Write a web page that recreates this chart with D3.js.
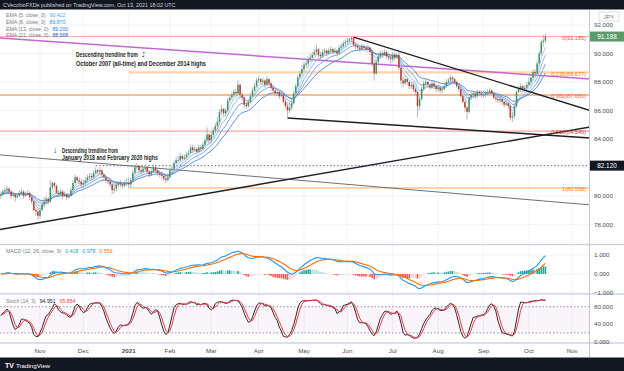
<!DOCTYPE html>
<html>
<head>
<meta charset="utf-8">
<script src="https://cdnjs.cloudflare.com/ajax/libs/d3/7.8.5/d3.min.js"></script>
<style>
body { margin: 0; background: #ffffff; }
svg { display: block; font-family: "Liberation Sans", Arial, sans-serif; }
</style>
</head>
<body>
<div class="canvas"></div>
<script>
// CAD/JPY daily, Oct 6 2020 - Oct 13 2021
const closes = [
  80.1,80.3,80.4,80.5,80.3,80.0,80.1,79.9,80.0,80.2,80.3,80.0,80.1,80.2,79.9,79.6,79.0,78.9,78.6,
  79.0,79.4,79.6,79.8,79.6,80.6,80.9,80.7,80.2,80.1,80.3,80.0,80.1,79.9,80.0,80.4,80.9,81.3,81.1,81.0,80.8,
  80.9,81.1,81.3,81.4,81.3,81.6,81.8,81.7,81.8,81.5,81.3,81.1,81.0,80.8,80.4,80.5,80.8,80.9,80.8,80.7,80.9,80.9,
  80.8,81.1,81.6,82.0,82.1,81.8,81.7,81.9,82.0,81.7,81.5,81.7,82.0,81.8,81.6,81.5,81.4,81.2,81.1,81.3,
  81.8,81.9,82.3,82.5,82.5,82.8,82.6,82.7,82.9,83.0,83.4,83.2,83.3,83.1,83.4,83.3,83.6,83.9,84.3,83.9,
  84.3,84.6,84.9,85.2,85.9,86.1,85.8,86.0,86.7,86.9,87.1,87.3,87.2,87.8,87.1,86.9,86.4,86.3,86.6,87.0,87.4,87.7,88.1,
  88.2,88.0,88.1,87.8,88.2,87.9,87.6,87.4,87.2,87.3,87.0,87.1,86.6,86.3,86.0,86.2,86.5,87.2,87.7,88.3,88.6,88.9,
  89.2,89.3,89.6,89.7,89.9,90.1,90.3,89.9,89.8,90.1,90.2,90.0,90.2,90.3,90.1,90.2,90.0,90.4,90.5,90.7,90.8,
  90.9,91.0,91.1,90.6,90.5,90.4,90.3,90.5,90.4,90.3,90.4,90.1,89.3,88.6,89.4,89.8,90.0,89.9,90.1,89.8,89.7,89.6,
  89.9,89.7,89.9,89.0,88.1,87.9,88.2,88.0,87.7,87.8,87.5,87.3,86.3,86.8,87.5,87.9,88.0,87.8,87.6,87.9,87.7,87.5,
  87.6,87.4,87.5,87.7,88.0,88.1,88.3,88.2,88.0,87.7,87.5,87.0,86.6,86.2,85.9,86.9,87.1,87.2,87.0,87.3,87.2,87.1,
  87.1,87.2,87.3,87.4,87.2,86.9,86.8,86.7,86.8,86.6,86.4,86.5,86.3,85.5,85.6,86.3,87.3,87.5,87.7,87.5,87.6,87.8,
  88.0,88.3,88.7,88.6,89.3,90.0,90.8,90.9,91.188
];
const highs = [
  80.3,80.5,80.6,80.7,80.6,80.4,80.3,80.2,80.2,80.4,80.5,80.4,80.3,80.4,80.3,80.0,79.7,79.2,79.1,
  79.2,79.7,79.9,80.0,79.9,81.1,81.0,81.0,80.8,80.4,80.5,80.4,80.3,80.2,80.2,80.6,81.1,81.5,81.4,81.3,81.2,
  81.1,81.3,81.5,81.6,81.6,81.8,82.0,81.9,82.0,81.9,81.6,81.4,81.3,81.2,80.9,80.8,80.9,81.0,81.1,80.9,81.1,81.2,
  81.3,81.3,81.8,82.2,82.3,82.2,82.0,82.1,82.2,82.1,81.8,81.9,82.2,82.1,81.9,81.8,81.7,81.6,81.4,81.6,
  82.0,82.1,82.5,82.7,82.8,83.0,82.9,82.9,83.1,83.2,83.6,83.6,83.5,83.4,83.6,83.6,83.8,84.1,84.8,84.4,
  84.5,84.8,85.1,85.5,86.1,86.4,86.2,86.2,86.9,87.1,87.3,87.5,87.5,88.1,87.9,87.3,87.0,86.6,86.8,87.2,87.6,87.9,88.3,
  88.4,88.3,88.3,88.2,88.4,88.3,88.0,87.8,87.5,87.5,87.4,87.3,87.2,86.8,86.5,86.6,86.8,87.4,87.9,88.5,88.8,89.2,
  89.4,89.6,89.8,90.0,90.1,90.3,90.6,90.4,90.1,90.3,90.4,90.3,90.4,90.5,90.4,90.4,90.3,90.6,90.7,90.9,91.0,
  91.1,91.1,91.185,91.1,90.8,90.7,90.6,90.7,90.6,90.5,90.6,90.5,90.2,89.5,89.6,90.0,90.2,90.2,90.3,90.2,90.0,89.9,
  90.1,90.1,90.0,90.1,89.2,88.4,88.5,88.3,88.1,88.0,88.0,87.6,87.4,87.0,87.7,88.1,88.3,88.1,87.9,88.1,88.1,87.8,
  87.8,87.7,87.7,87.9,88.2,88.3,88.45,88.4,88.3,88.1,87.8,87.6,87.2,86.8,86.3,87.1,87.3,87.4,87.3,87.5,87.4,87.4,
  87.4,87.4,87.5,87.6,87.5,87.3,87.1,87.0,87.0,86.9,86.7,86.7,86.6,86.4,85.9,86.5,87.4,87.7,87.9,87.8,87.8,88.0,
  88.3,88.5,88.9,88.9,89.5,90.2,91.0,91.3,91.4
];
const lows = [
  79.8,80.0,80.2,80.2,80.1,79.8,79.9,79.6,79.8,79.9,80.0,79.8,79.9,80.0,79.7,79.4,78.9,78.6,78.3,
  78.4,78.9,79.2,79.4,79.4,79.5,80.4,80.5,80.1,79.9,80.0,79.8,79.9,79.7,79.8,79.9,80.3,80.8,80.9,80.8,80.6,
  80.5,80.7,80.9,81.1,81.1,81.1,81.5,81.5,81.5,81.3,81.1,80.9,80.8,80.6,80.1,80.2,80.3,80.6,80.6,80.5,80.6,80.7,
  80.56,80.6,81.0,81.5,81.8,81.6,81.5,81.6,81.8,81.5,81.3,81.4,81.6,81.6,81.4,81.3,81.2,81.0,80.9,81.0,
  81.2,81.6,81.8,82.1,82.3,82.4,82.5,82.5,82.6,82.8,83.0,83.0,83.1,82.9,83.0,83.1,83.2,83.5,83.8,83.6,
  83.7,84.1,84.4,84.6,85.0,85.7,85.6,85.6,85.9,86.5,86.7,86.9,87.0,87.1,86.9,86.7,86.2,86.1,86.2,86.5,86.9,87.3,87.6,
  87.9,87.8,87.8,87.6,87.7,87.7,87.4,87.2,87.0,87.0,86.8,86.9,86.5,86.1,85.5,85.8,86.0,86.4,87.0,87.5,88.1,88.4,
  88.7,89.0,89.1,89.4,89.5,89.8,89.9,89.7,89.6,89.7,89.9,89.8,89.9,90.0,89.9,90.0,89.8,89.9,90.2,90.4,90.5,
  90.6,90.7,90.8,90.5,90.3,90.2,90.1,90.2,90.2,90.1,90.1,89.9,89.1,88.1,88.5,89.3,89.6,89.7,89.8,89.6,89.5,89.3,
  89.4,89.5,89.6,88.8,87.8,87.6,87.8,87.8,87.5,87.5,87.3,87.1,85.5,86.0,86.7,87.4,87.7,87.6,87.4,87.5,87.5,87.3,
  87.3,87.2,87.2,87.4,87.6,87.8,88.0,88.0,87.8,87.6,87.3,86.9,86.5,85.9,85.35,85.8,86.7,86.9,86.8,86.9,87.0,86.9,
  86.9,86.9,87.0,87.1,87.1,86.8,86.6,86.5,86.5,86.4,86.2,86.3,86.1,85.3,85.2,85.4,86.2,87.2,87.3,87.3,87.3,87.4,
  87.7,87.8,88.1,88.3,88.5,89.1,89.8,90.5,90.7
];
const firstOpen = 80.0;

// axis ticks
const priceTicks = [92, 90, 88, 86, 84, 80, 78];
const macdTicks = [1, 0, -1];
const stochTicks = [80, 40, 0];
const lastPrice = 91.188;
const markedLevel = 82.12;

// indicator legends (as printed on the chart)
const emaPeriods = [5, 8, 13, 21];
const emaLegendValues = ['90.412', '89.870', '89.200', '88.568'];
const macdLegendValues = ['0.418', '0.978', '0.559'];
const stochLegendValues = ['94.951', '95.854'];

// fibonacci / horizontal levels
const levelValues = [91.185, 88.677, 87.081, 84.545, 80.558];
const levelLabels = ['0(91.185)', '0.236(88.677)', '0.382(87.081)', '0.618(84.545)', '1(80.558)'];

// trendlines: [bar index, price] pairs
const trendAscending = [[0, 77.65], [264, 84.29]];
const trend2018 = [[0, 82.87], [264, 79.63]];
const trend2007 = [[0, 91.08], [264, 88.43]];
const trendJuneHigh = [[171, 91.15], [264, 86.97]];
const trendAprilLow = [[139, 85.47], [264, 84.27]];

// ---------------------------------------------------------------
const W = 624, H = 371;
const axisX = 589.5;
const main = { top: 10, bottom: 244 };
const macdPane = { top: 245, bottom: 293 };
const stochPane = { top: 295, bottom: 342 };

// trading days
const holidays = ['2020-12-25', '2021-01-01'];
const days = [];
for (let d = new Date(2020, 9, 6); d <= new Date(2021, 10, 5); d.setDate(d.getDate() + 1)) {
  const wd = d.getDay();
  const key = d3.timeFormat('%Y-%m-%d')(d);
  if (wd !== 0 && wd !== 6 && !holidays.includes(key)) days.push(new Date(d));
}

const bars = closes.map((c, i) => ({
  i, c, h: highs[i], l: lows[i], o: i === 0 ? firstOpen : closes[i - 1]
}));

const x = d3.scaleLinear().domain([0, 264]).range([0.8, 545.4]);
const y = d3.scaleLinear().domain([78, 92]).range([224.3, 25]);
const yMacd = d3.scaleLinear().domain([0, 1]).range([274, 255]);
const yStoch = d3.scaleLinear().domain([0, 100]).range([341.7, 297.95]);

// indicators
const ema = (arr, n) => {
  const k = 2 / (n + 1), out = [];
  arr.forEach((v, i) => out.push(i === 0 ? v : v * k + out[i - 1] * (1 - k)));
  return out;
};
const sma = (arr, n) => arr.map((v, i) => d3.mean(arr.slice(Math.max(0, i - n + 1), i + 1)));
const emas = emaPeriods.map(p => ema(closes, p));
const e12 = ema(closes, 12), e26 = ema(closes, 26);
const macd = e12.map((v, i) => v - e26[i]);
const signal = ema(macd, 9);
const hist = macd.map((v, i) => v - signal[i]);
const rawK = closes.map((c, i) => {
  const hh = d3.max(highs.slice(Math.max(0, i - 13), i + 1));
  const ll = d3.min(lows.slice(Math.max(0, i - 13), i + 1));
  return hh === ll ? 50 : 100 * (c - ll) / (hh - ll);
});
const stochK = sma(rawK, 3);
const stochD = sma(stochK, 3);

const svg = d3.select('.canvas').append('svg')
  .attr('width', W).attr('height', H);

svg.append('rect').attr('width', W).attr('height', H).attr('fill', '#ffffff');

const defs = svg.append('defs');
[['clipMain', main], ['clipMacd', macdPane], ['clipStoch', stochPane]].forEach(([id, p]) => {
  defs.append('clipPath').attr('id', id).append('rect')
    .attr('x', 0).attr('y', p.top).attr('width', axisX).attr('height', p.bottom - p.top);
});

// month ticks
const monthTicks = [];
days.forEach((d, i) => {
  if (i > 0 && d.getMonth() !== days[i - 1].getMonth()) monthTicks.push({ i, d });
});

// grid
const grid = svg.append('g');
grid.selectAll('line.v').data(monthTicks).enter().append('line')
  .attr('x1', d => x(d.i)).attr('x2', d => x(d.i))
  .attr('y1', main.top).attr('y2', stochPane.bottom)
  .attr('stroke', '#f0f3fa').attr('stroke-width', 1);
grid.selectAll('line.h').data(priceTicks.concat([82])).enter().append('line')
  .attr('x1', 0).attr('x2', axisX)
  .attr('y1', d => y(d)).attr('y2', d => y(d))
  .attr('stroke', '#f0f3fa');
grid.selectAll('line.m').data(macdTicks).enter().append('line')
  .attr('x1', 0).attr('x2', axisX)
  .attr('y1', d => yMacd(d)).attr('y2', d => yMacd(d))
  .attr('stroke', '#f0f3fa');

// ---------------- main pane ----------------
const gMain = svg.append('g').attr('clip-path', 'url(#clipMain)');
const lineThrough = (pts) => {
  const [a, b] = pts;
  const slope = (b[1] - a[1]) / (b[0] - a[0]);
  const i1 = x.invert(axisX + 2);
  return [[a[0], a[1]], [i1, a[1] + slope * (i1 - a[0])]];
};
const lineFromLeft = (pts) => {
  const [a, b] = pts;
  const slope = (b[1] - a[1]) / (b[0] - a[0]);
  const i0 = x.invert(-2), i1 = x.invert(axisX + 2);
  return [[i0, a[1] + slope * (i0 - a[0])], [i1, a[1] + slope * (i1 - a[0])]];
};
const pLine = d3.line().x(d => x(d[0])).y(d => y(d[1]));

// horizontal levels
const levelStart = [null, 62, null, null, 62];
const levelColor = ['#f7a8a2', '#ffd3ad', '#f9a469', '#f4a3a0', '#ffcfa3'];
const levelWidth = [1, 2.2, 1.6, 1.2, 1.8];
const levelText = ['#f0533f', '#f57c00', '#f0633a', '#e53935', '#f57c00'];
levelValues.forEach((v, k) => {
  const x0 = levelStart[k] === null ? 0 : x(levelStart[k]);
  gMain.append('line')
    .attr('x1', x0).attr('x2', axisX)
    .attr('y1', y(v)).attr('y2', y(v))
    .attr('stroke', levelColor[k]).attr('stroke-width', levelWidth[k]);
});

// 82.12 dotted level
gMain.append('line')
  .attr('x1', x(46)).attr('x2', axisX)
  .attr('y1', y(markedLevel)).attr('y2', y(markedLevel))
  .attr('stroke', '#6a6d78').attr('stroke-width', 1)
  .attr('stroke-dasharray', '1.5,2');

// trendlines
gMain.append('path').datum(lineFromLeft(trend2018)).attr('d', pLine)
  .attr('fill', 'none').attr('stroke', '#5d606b').attr('stroke-width', 0.9);
gMain.append('path').datum(lineFromLeft(trend2007)).attr('d', pLine)
  .attr('fill', 'none').attr('stroke', '#c266d4').attr('stroke-width', 1.5);

// EMAs
const emaColors = ['#a8c8f4', '#86b2ee', '#6a9ae4', '#4c7fd8'];
emas.forEach((arr, k) => {
  gMain.append('path').datum(arr)
    .attr('d', d3.line().x((d, i) => x(i)).y(d => y(d)))
    .attr('fill', 'none').attr('stroke', emaColors[k]).attr('stroke-width', 0.9);
});

// candles
const up = '#3d9660', down = '#c0392b';
const cg = gMain.append('g');
cg.selectAll('line.wick').data(bars).enter().append('line')
  .attr('x1', d => x(d.i)).attr('x2', d => x(d.i))
  .attr('y1', d => y(d.h)).attr('y2', d => y(d.l))
  .attr('stroke', '#a3a6af').attr('stroke-width', 0.8);
cg.selectAll('rect.body').data(bars).enter().append('rect')
  .attr('x', d => x(d.i) - 0.75).attr('width', 1.5)
  .attr('y', d => y(Math.max(d.o, d.c)))
  .attr('height', d => Math.max(0.7, Math.abs(y(d.o) - y(d.c))))
  .attr('fill', d => d.c >= d.o ? up : down);

// black trendlines
gMain.append('path').datum(lineFromLeft(trendAscending)).attr('d', pLine)
  .attr('fill', 'none').attr('stroke', '#1e1f24').attr('stroke-width', 1.4);
gMain.append('path').datum(lineThrough(trendJuneHigh)).attr('d', pLine)
  .attr('fill', 'none').attr('stroke', '#1e1f24').attr('stroke-width', 1.4);
gMain.append('path').datum(lineThrough(trendAprilLow)).attr('d', pLine)
  .attr('fill', 'none').attr('stroke', '#1e1f24').attr('stroke-width', 1.4);

// level labels
levelValues.forEach((v, k) => {
  svg.append('text').attr('x', 586).attr('y', y(v) + 3.2)
    .attr('text-anchor', 'end').attr('font-size', 5.6)
    .attr('fill', levelText[k]).text(levelLabels[k]);
});

// annotations: text squeezed horizontally to the width seen on the chart
const ann = svg.append('g').attr('fill', '#1e1f24').attr('font-size', 6.8).attr('font-weight', 'bold');
const fitText = (x0, y0, width, str) => {
  const g = ann.append('g');
  const t = g.append('text').attr('x', 0).attr('y', 0).text(str);
  const natural = t.node().getComputedTextLength();
  g.attr('transform', `translate(${x0},${y0}) scale(${width / natural},1)`);
};
fitText(76, 57, 62, 'Descending trendline from');
fitText(76, 66, 130, 'October 2007 (all-time) and December 2014 highs');
fitText(62, 152.5, 56, 'Descending trendline from');
fitText(62, 160, 96, 'January 2018 and February 2020 highs');
ann.append('text').attr('x', 142).attr('y', 56.5).attr('font-size', 5.5).attr('font-weight', 'normal').text('\u2934');
ann.append('text').attr('x', 53).attr('y', 153).attr('font-size', 8).text('\u2193');

// EMA legend
emaPeriods.forEach((p, k) => {
  const t = svg.append('text').attr('x', 6).attr('y', 17 + k * 6.8).attr('font-size', 5.2);
  t.append('tspan').attr('fill', '#787b86').text(`EMA (${p}, close, 0)`);
  t.append('tspan').attr('dx', 4).attr('fill', ['#4aa3f0', '#2f8ee8', '#2a7ae0', '#2962c8'][k]).text(emaLegendValues[k]);
});

// ---------------- MACD pane ----------------
const gMacd = svg.append('g').attr('clip-path', 'url(#clipMacd)');
gMacd.selectAll('rect').data(hist).enter().append('rect')
  .attr('x', (d, i) => x(i) - 0.8).attr('width', 1.6)
  .attr('y', d => yMacd(Math.max(0, d)))
  .attr('height', d => Math.abs(yMacd(d) - yMacd(0)))
  .attr('fill', (d, i) => {
    const prev = i === 0 ? d : hist[i - 1];
    if (d >= 0) return d >= prev ? '#26a69a' : '#b2dfdb';
    return d <= prev ? '#ff5252' : '#ffcdd2';
  });
gMacd.append('path').datum(macd)
  .attr('d', d3.line().x((d, i) => x(i)).y(d => yMacd(d)))
  .attr('fill', 'none').attr('stroke', '#2196f3').attr('stroke-width', 1.1);
gMacd.append('path').datum(signal)
  .attr('d', d3.line().x((d, i) => x(i)).y(d => yMacd(d)))
  .attr('fill', 'none').attr('stroke', '#ff6d00').attr('stroke-width', 1.1);

const ml = svg.append('text').attr('x', 6).attr('y', 252.5).attr('font-size', 5.2);
ml.append('tspan').attr('fill', '#787b86').text('MACD (12, 26, close, 9)');
ml.append('tspan').attr('dx', 4).attr('fill', '#26a69a').text(macdLegendValues[0]);
ml.append('tspan').attr('dx', 4).attr('fill', '#2196f3').text(macdLegendValues[1]);
ml.append('tspan').attr('dx', 4).attr('fill', '#ff6d00').text(macdLegendValues[2]);

// ---------------- Stoch pane ----------------
const gSt = svg.append('g').attr('clip-path', 'url(#clipStoch)');
gSt.append('rect').attr('x', 0).attr('width', axisX)
  .attr('y', yStoch(80)).attr('height', yStoch(20) - yStoch(80))
  .attr('fill', '#9c27b0').attr('fill-opacity', 0.05);
[80, 20].forEach(v => gSt.append('line')
  .attr('x1', 0).attr('x2', axisX).attr('y1', yStoch(v)).attr('y2', yStoch(v))
  .attr('stroke', '#9598a1').attr('stroke-dasharray', '1.5,2'));
gSt.append('path').datum(stochK)
  .attr('d', d3.line().x((d, i) => x(i)).y(d => yStoch(d)))
  .attr('fill', 'none').attr('stroke', '#2a2b30').attr('stroke-width', 1);
gSt.append('path').datum(stochD)
  .attr('d', d3.line().x((d, i) => x(i)).y(d => yStoch(d)))
  .attr('fill', 'none').attr('stroke', '#f23645').attr('stroke-width', 1);

const sl = svg.append('text').attr('x', 6).attr('y', 303).attr('font-size', 5.2);
sl.append('tspan').attr('fill', '#787b86').text('Stoch (14, 3)');
sl.append('tspan').attr('dx', 4).attr('fill', '#2a2b30').text(stochLegendValues[0]);
sl.append('tspan').attr('dx', 4).attr('fill', '#f23645').text(stochLegendValues[1]);

// ---------------- frames & axes ----------------
[macdPane.top - 0.5, stochPane.top - 1, stochPane.bottom + 1].forEach(v =>
  svg.append('line').attr('x1', 0).attr('x2', W).attr('y1', v).attr('y2', v)
    .attr('stroke', '#d1d4dc').attr('stroke-width', 1.6));
svg.append('line').attr('x1', axisX).attr('x2', axisX).attr('y1', main.top).attr('y2', 357)
  .attr('stroke', '#c4c7cf').attr('stroke-width', 1);

const axisText = svg.append('g').attr('font-size', 6.2).attr('fill', '#4a4d57');
axisText.selectAll('text.p').data(priceTicks).enter().append('text')
  .attr('x', 594).attr('y', d => y(d) + 2.2).text(d3.format('.3f'));
axisText.selectAll('text.m').data(macdTicks).enter().append('text')
  .attr('x', 594).attr('y', d => yMacd(d) + 2.2).text(d3.format('.3f'));
axisText.selectAll('text.s').data(stochTicks).enter().append('text')
  .attr('x', 594).attr('y', d => yStoch(d) + 2.2).text(d3.format('.3f'));

// JPY tag
svg.append('rect').attr('x', 599).attr('y', 12).attr('width', 20).attr('height', 9)
  .attr('fill', '#ffffff').attr('stroke', '#d1d4dc').attr('stroke-width', 0.8);
svg.append('text').attr('x', 609).attr('y', 18.8).attr('text-anchor', 'middle')
  .attr('font-size', 6).attr('fill', '#787b86').text('JPY');

// price badges
[[lastPrice, '#5c9a6c'], [markedLevel, '#131722']].forEach(([v, col]) => {
  svg.append('rect').attr('x', 590).attr('y', y(v) - 5).attr('width', 34).attr('height', 10).attr('fill', col);
  svg.append('text').attr('x', 607).attr('y', y(v) + 2.3).attr('text-anchor', 'middle')
    .attr('font-size', 6.4).attr('fill', '#ffffff').text(d3.format('.3f')(v));
});

// time axis
const fmtMonth = d3.timeFormat('%b');
svg.selectAll('text.t').data(monthTicks).enter().append('text')
  .attr('x', d => x(d.i)).attr('y', 352.5).attr('text-anchor', 'middle')
  .attr('font-size', 6.2).attr('fill', '#4a4d57')
  .attr('font-weight', d => d.d.getMonth() === 0 ? 'bold' : 'normal')
  .text(d => d.d.getMonth() === 0 ? d.d.getFullYear() : fmtMonth(d.d));

// header & footer
svg.append('rect').attr('x', 0).attr('y', 0).attr('width', W).attr('height', 9.5).attr('fill', '#131722');
svg.append('text').attr('x', 3).attr('y', 7).attr('font-size', 5.4).attr('fill', '#d1d4dc')
  .text('CVecchioFXDe published on TradingView.com, Oct 13, 2021 18:02 UTC');
svg.append('rect').attr('x', 0).attr('y', 357.5).attr('width', W).attr('height', 14).attr('fill', '#131722');
svg.append('text').attr('x', 5).attr('y', 367.5).attr('font-size', 7).attr('font-weight', 'bold')
  .attr('fill', '#ffffff').text('TV');
svg.append('text').attr('x', 16).attr('y', 367.5).attr('font-size', 6.2)
  .attr('fill', '#ffffff').text('TradingView');
</script>
</body>
</html>
